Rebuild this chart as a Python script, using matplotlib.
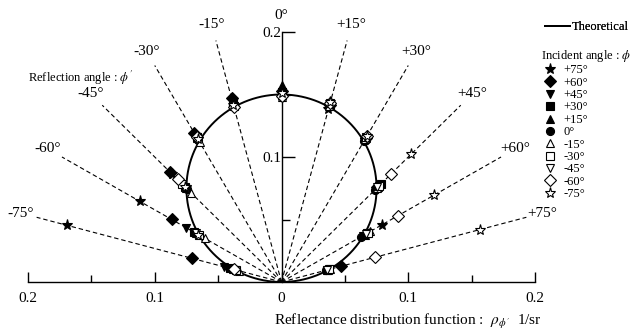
import numpy as np
import matplotlib
matplotlib.use('Agg')
import matplotlib.pyplot as plt
from matplotlib.ticker import FixedLocator, FixedFormatter

plt.rcParams['font.family'] = ['Liberation Serif', 'DejaVu Serif']
plt.rcParams['mathtext.fontset'] = 'stix'

nan = np.nan
# Reflection angles (deg) of the radial measurement lines
refl_angles = [-75, -60, -45, -30, -15, 0, 15, 30, 45, 60, 75]
refl_labels = ['-75°', '-60°', '-45°', '-30°', '-15°', '0°',
               '+15°', '+30°', '+45°', '+60°', '+75°']

# Incident angle series: reflectance distribution (1/sr) at each reflection angle
incident_labels = ['+75°', '+60°', '+45°', '+30°', '+15°', '0°',
                   '-15°', '-30°', '-45°', '-60°', '-75°']
r_p75 = [0.175, 0.129, 0.122, 0.135, 0.146, 0.148, 0.143, 0.131, 0.108, 0.092, nan]
r_p60 = [0.073, 0.100, 0.124, 0.138, 0.152, 0.153, 0.147, 0.133, 0.107, nan, 0.049]
r_p45 = [0.047, 0.087, 0.105, 0.134, 0.148, 0.152, 0.146, 0.131, nan, 0.074, 0.040]
r_p30 = [0.042, 0.080, 0.108, 0.134, 0.149, 0.152, 0.147, nan, 0.111, 0.078, 0.037]
r_p15 = [0.040, 0.078, 0.106, 0.133, 0.149, 0.158, nan, 0.133, 0.108, 0.076, 0.038]
r_0 = [0.039, 0.077, 0.105, 0.131, 0.147, nan, 0.146, 0.130, 0.104, 0.072, 0.036]
r_m15 = [0.035, 0.070, 0.101, 0.129, nan, 0.148, 0.146, 0.132, 0.106, 0.081, 0.040]
r_m30 = [0.037, 0.075, 0.111, nan, 0.146, 0.150, 0.148, 0.134, 0.109, 0.079, 0.039]
r_m45 = [0.038, 0.078, nan, 0.132, 0.146, 0.150, 0.147, 0.133, 0.107, 0.077, 0.037]
r_m60 = [0.039, nan, 0.116, 0.134, 0.145, 0.149, 0.148, 0.135, 0.122, 0.106, 0.076]
r_m75 = [nan, 0.076, 0.108, 0.132, 0.147, 0.151, 0.149, 0.135, 0.145, 0.139, 0.162]
series = [r_p75, r_p60, r_p45, r_p30, r_p15, r_0, r_m15, r_m30, r_m45, r_m60, r_m75]

# Theoretical (Lambertian) peak value at normal direction
theory_peak = 0.15
line_length = 0.2
label_radius = 0.213

axis_ticks = [-0.2, -0.1, 0.0, 0.1, 0.2]
axis_ticklabels = ['0.2', '0.1', '0', '0.1', '0.2']
axis_minor = [-0.15, -0.05, 0.05, 0.15]
y_ticks = [0.1, 0.2]
y_ticklabels = ['0.1', '0.2']
y_minor = [0.05, 0.15]

styles = [
    dict(marker='*', ms=8, mfc='black'),
    dict(marker='D', ms=6.3, mfc='black'),
    dict(marker='v', ms=6.3, mfc='black'),
    dict(marker='s', ms=5.8, mfc='black'),
    dict(marker='^', ms=6.3, mfc='black'),
    dict(marker='o', ms=5.8, mfc='black'),
    dict(marker='^', ms=6.3, mfc='white'),
    dict(marker='s', ms=5.8, mfc='white'),
    dict(marker='v', ms=6.3, mfc='white'),
    dict(marker='D', ms=6.3, mfc='white'),
    dict(marker='*', ms=8, mfc='white'),
]

fig = plt.figure(figsize=(6.38, 3.31), dpi=100)
ax = fig.add_axes([28/638, 1-282/331, 507/638, 250/331])
ax.set_xlim(-0.2, 0.2)
ax.set_ylim(0, 0.2)

th_all = np.radians(np.array(refl_angles, dtype=float))

# radial dashed lines
for a, lab in zip(refl_angles, refl_labels):
    t = np.radians(a)
    if a != 0:
        ax.plot([0, line_length*np.sin(t)], [0, line_length*np.cos(t)],
                color='black', lw=0.8, ls=(0, (4, 2.6)), clip_on=False, zorder=1)
    ax.text(label_radius*np.sin(t), label_radius*np.cos(t), lab,
            ha='center', va='center', fontsize=11)

# theoretical curve
tt = np.linspace(-np.pi/2, np.pi/2, 400)
rt = theory_peak*np.cos(tt)
theo, = ax.plot(rt*np.sin(tt), rt*np.cos(tt), color='black', lw=1.4,
                clip_on=False, zorder=2, label='Theoretical')

handles = []
for r, lab, st in zip(series, incident_labels, styles):
    r = np.array(r, dtype=float)
    h, = ax.plot(r*np.sin(th_all), r*np.cos(th_all), ls='none',
                 marker=st['marker'], ms=st['ms'], mfc=st['mfc'],
                 mec='black', mew=0.8, clip_on=False, zorder=3, label=lab)
    handles.append(h)

# spines / ticks
for s in ['top', 'right']:
    ax.spines[s].set_visible(False)
ax.spines['left'].set_position(('data', 0))
ax.spines['left'].set_linewidth(1.0)
ax.spines['bottom'].set_linewidth(1.0)
ax.spines['bottom'].set_bounds(-0.2, 0.2)
ax.spines['left'].set_bounds(0, 0.2)

ax.xaxis.set_major_locator(FixedLocator(axis_ticks))
ax.xaxis.set_major_formatter(FixedFormatter(axis_ticklabels))
ax.xaxis.set_minor_locator(FixedLocator(axis_minor))
ax.yaxis.set_major_locator(FixedLocator(y_ticks))
ax.yaxis.set_major_formatter(FixedFormatter(y_ticklabels))
ax.yaxis.set_minor_locator(FixedLocator(y_minor))
ax.tick_params(axis='x', which='major', direction='in', length=7, width=1,
               labelsize=11, pad=7)
ax.tick_params(axis='x', which='minor', direction='in', length=5, width=1)
ax.tick_params(axis='y', which='major', direction='in', length=9, width=1,
               labelsize=11, pad=0)
ax.tick_params(axis='y', which='minor', direction='in', length=6, width=1)

ax.text(-0.2, 0.163, "Reflection angle : $\\phi'$", fontsize=9,
        ha='left', va='center')

fig.text(542/638, 1-321/331,
         "Reflectance distribution function :  $\\rho_{\\phi'}$  1/sr",
         ha='right', va='center', fontsize=11)

leg1 = fig.legend(handles=[theo], loc='upper left',
                  bbox_to_anchor=(545/638, 1-21/331), frameon=False,
                  fontsize=9, handlelength=2.0, handletextpad=0.15,
                  borderpad=0, borderaxespad=0)
fig.add_artist(leg1)
leg2 = fig.legend(handles=handles, loc='upper left',
                  bbox_to_anchor=(541/638, 1-48/331), frameon=False,
                  fontsize=9, title='Incident angle : $\\phi$',
                  title_fontsize=9, alignment='left', numpoints=1,
                  handlelength=1.4, handletextpad=0.4, labelspacing=0.03,
                  borderpad=0, borderaxespad=0)

fig.savefig('out.png', dpi=100)
